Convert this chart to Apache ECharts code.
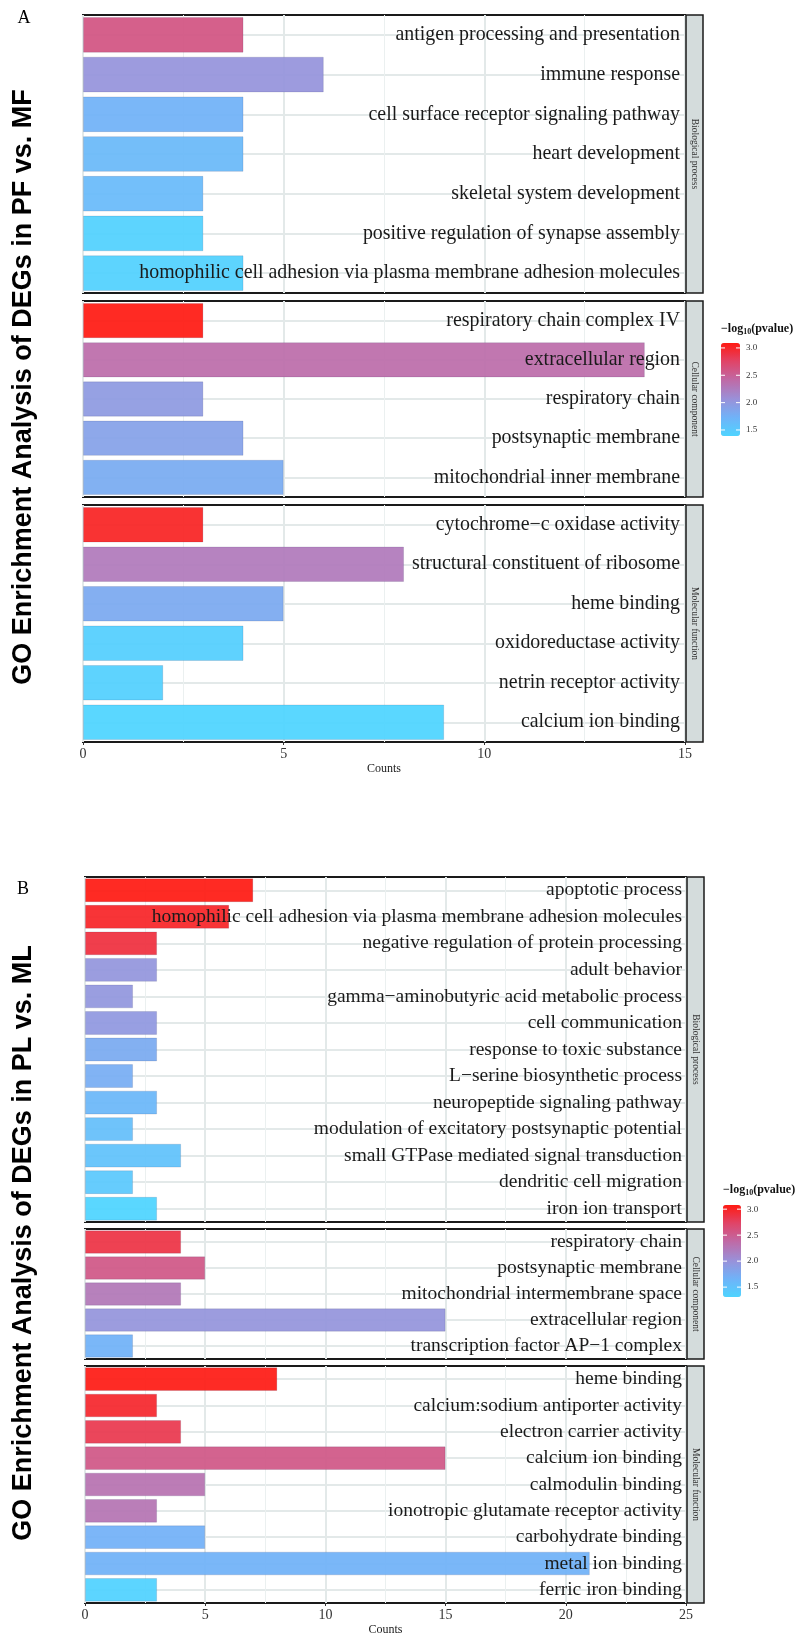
<!DOCTYPE html>
<html><head><meta charset="utf-8">
<script src="https://cdn.jsdelivr.net/npm/echarts@6/dist/echarts.min.js"></script>
<style>html,body{margin:0;padding:0;background:#fff}#c{width:798px;height:1638px}</style>
</head><body><div id="c"></div>
<script>
// ---------------- DATA ----------------
// Panel A: PF vs. MF
const A_BP_terms = ['antigen processing and presentation','immune response','cell surface receptor signaling pathway','heart development','skeletal system development','positive regulation of synapse assembly','homophilic cell adhesion via plasma membrane adhesion molecules'];
const A_BP_counts = [4, 6, 4, 4, 3, 3, 4];
const A_BP_logp = [2.61, 2.04, 1.73, 1.66, 1.65, 1.42, 1.42];

const A_CC_terms = ['respiratory chain complex IV','extracellular region','respiratory chain','postsynaptic membrane','mitochondrial inner membrane'];
const A_CC_counts = [3, 14, 3, 4, 5];
const A_CC_logp = [3.09, 2.38, 1.97, 1.90, 1.80];

const A_MF_terms = ['cytochrome\u2212c oxidase activity','structural constituent of ribosome','heme binding','oxidoreductase activity','netrin receptor activity','calcium ion binding'];
const A_MF_counts = [3, 8, 5, 4, 2, 9];
const A_MF_logp = [3.02, 2.27, 1.82, 1.44, 1.43, 1.39];

// Panel B: PL vs. ML
const B_BP_terms = ['apoptotic process','homophilic cell adhesion via plasma membrane adhesion molecules','negative regulation of protein processing','adult behavior','gamma\u2212aminobutyric acid metabolic process','cell communication','response to toxic substance','L\u2212serine biosynthetic process','neuropeptide signaling pathway','modulation of excitatory postsynaptic potential','small GTPase mediated signal transduction','dendritic cell migration','iron ion transport'];
const B_BP_counts = [7, 6, 3, 3, 2, 3, 3, 2, 3, 2, 4, 2, 3];
const B_BP_logp = [3.08, 2.99, 2.90, 1.96, 1.95, 1.93, 1.75, 1.72, 1.61, 1.54, 1.50, 1.43, 1.31];

const B_CC_terms = ['respiratory chain','postsynaptic membrane','mitochondrial intermembrane space','extracellular region','transcription factor AP\u22121 complex'];
const B_CC_counts = [4, 5, 4, 15, 2];
const B_CC_logp = [2.87, 2.55, 2.25, 1.98, 1.66];

const B_MF_terms = ['heme binding','calcium:sodium antiporter activity','electron carrier activity','calcium ion binding','calmodulin binding','ionotropic glutamate receptor activity','carbohydrate binding','metal ion binding','ferric iron binding'];
const B_MF_counts = [8, 3, 4, 15, 5, 3, 5, 21, 3];
const B_MF_logp = [3.07, 2.97, 2.83, 2.55, 2.30, 2.28, 1.68, 1.66, 1.33];

const A_xTicks = [0, 15, 5];   // min, max, interval
const B_xTicks = [0, 25, 5];
const A_legendRange = [1.39, 3.09];
const B_legendRange = [1.31, 3.08];
const legendTicks = [1.5, 2.0, 2.5, 3.0];
const stripLabels = ['Biological process', 'Cellular component', 'Molecular function'];
const titles = ['GO Enrichment Analysis of DEGs in PF vs. MF', 'GO Enrichment Analysis of DEGs in PL vs. ML'];

// ---------------- STYLE / LAYOUT ----------------
const SERIF = "'Liberation Serif','Times New Roman',serif";
const SANS = "'Liberation Sans',Arial,sans-serif";
const STOPS = ['#4ED4FF', '#70B2F8', '#9A90D8', '#BF6AA6', '#E04468', '#FF1A12'];
const GRID_C = '#E3E9E9';

const panels = [
  {terms: A_BP_terms, counts: A_BP_counts, logp: A_BP_logp, left: 83, width: 602, top: 15, height: 278, x: A_xTicks, last: false, strip: 0, fs: 19.9, m: 5},
  {terms: A_CC_terms, counts: A_CC_counts, logp: A_CC_logp, left: 83, width: 602, top: 301, height: 196, x: A_xTicks, last: false, strip: 1, fs: 19.9, m: 5},
  {terms: A_MF_terms, counts: A_MF_counts, logp: A_MF_logp, left: 83, width: 602, top: 505, height: 237, x: A_xTicks, last: true, strip: 2, fs: 19.9, m: 5},
  {terms: B_BP_terms, counts: B_BP_counts, logp: B_BP_logp, left: 85, width: 601, top: 877, height: 345, x: B_xTicks, last: false, strip: 0, fs: 19.5, m: 4},
  {terms: B_CC_terms, counts: B_CC_counts, logp: B_CC_logp, left: 85, width: 601, top: 1229, height: 130, x: B_xTicks, last: false, strip: 1, fs: 19.5, m: 4},
  {terms: B_MF_terms, counts: B_MF_counts, logp: B_MF_logp, left: 85, width: 601, top: 1366, height: 237, x: B_xTicks, last: true, strip: 2, fs: 19.5, m: 4}
];

const grid = [], xAxis = [], yAxis = [], series = [], graphic = [];
panels.forEach((p, i) => {
  grid.push({left: p.left, top: p.top, width: p.width, height: p.height, show: true,
    backgroundColor: '#fff', borderColor: '#1a1a1a', borderWidth: 2});
  xAxis.push({gridIndex: i, type: 'value', min: p.x[0], max: p.x[1], interval: p.x[2],
    axisLine: {show: false},
    axisTick: {show: p.last, length: 3, lineStyle: {color: '#333'}},
    axisLabel: {show: p.last, margin: 5, fontFamily: SERIF, fontSize: 14, color: '#333'},
    splitLine: {show: true, lineStyle: {color: GRID_C, width: 2}},
    minorTick: {show: false, splitNumber: 2},
    minorSplitLine: {show: true, lineStyle: {color: '#EBF0F0', width: 1}},
    name: p.last ? 'Counts' : '', nameLocation: 'middle', nameGap: 21,
    nameTextStyle: {fontFamily: SERIF, fontSize: 12, color: '#1a1a1a'}
  });
  // axis used by bars: carries horizontal grid lines at category centres
  yAxis.push({gridIndex: i, type: 'category', data: p.terms, inverse: true, position: 'right',
    axisLine: {show: false}, axisTick: {show: false}, axisLabel: {show: false},
    splitLine: {show: true, alignWithLabel: true, lineStyle: {color: GRID_C, width: 2}}, z: 0});
  // axis carrying term labels, drawn above bars
  yAxis.push({gridIndex: i, type: 'category', data: p.terms, inverse: true, position: 'right',
    axisLine: {show: false}, axisTick: {show: false}, splitLine: {show: false},
    axisLabel: {inside: true, interval: 0, margin: p.m, fontFamily: SERIF, fontSize: p.fs, color: '#1a1a1a'}, z: 10});
  series.push({type: 'bar', xAxisIndex: i, yAxisIndex: 2 * i, silent: true,
    barCategoryGap: '10%', encode: {x: 0, y: 1},
    itemStyle: {opacity: 0.93, borderColor: 'rgba(0,0,60,0.12)', borderWidth: 1},
    data: p.terms.map((t, k) => [p.counts[k], t, p.logp[k]])});
  // facet strip
  const sx = p.left + p.width + 1;
  graphic.push({type: 'rect', shape: {x: sx, y: p.top, width: 17, height: p.height},
    style: {fill: '#D4DCDC', stroke: '#1a1a1a', lineWidth: 1.5}, z: 5});
  graphic.push({type: 'text', x: sx + 8.5, y: p.top + p.height / 2, rotation: -Math.PI / 2,
    style: {text: stripLabels[p.strip], fontFamily: SERIF, fontSize: 9.5, fill: '#333',
      align: 'center', verticalAlign: 'middle'}, z: 6});
});

// big titles and panel letters
[[24, 387], [24, 1243]].forEach((c, i) => {
  graphic.push({type: 'text', x: c[0], y: c[1], rotation: Math.PI / 2,
    style: {text: titles[i], fontFamily: SANS, fontWeight: 'bold', fontSize: 27, fill: '#000',
      align: 'center', verticalAlign: 'middle'}});
});
graphic.push({type: 'text', x: 24, y: 18, style: {text: 'A', fontFamily: SERIF, fontSize: 18, fill: '#000', align: 'center', verticalAlign: 'middle'}});
graphic.push({type: 'text', x: 23, y: 889, style: {text: 'B', fontFamily: SERIF, fontSize: 18, fill: '#000', align: 'center', verticalAlign: 'middle'}});

// colour bars
const legends = [
  {range: A_legendRange, left: 721, top: 343, w: 19, h: 93, titleY: 329, series: [0, 1, 2]},
  {range: B_legendRange, left: 723, top: 1205, w: 18, h: 92, titleY: 1190, series: [3, 4, 5]}
];
const visualMap = legends.map(L => ({
  type: 'continuous', seriesIndex: L.series, dimension: 2, min: L.range[0], max: L.range[1],
  inRange: {color: STOPS}, left: L.left - 5, top: L.top - 5, padding: 5,
  itemWidth: L.w, itemHeight: L.h, calculable: false, showLabel: false, text: null, hoverLink: false
}));
legends.forEach(L => {
  graphic.push({type: 'text', x: L.left, y: L.titleY,
    style: {text: '{a|\u2212log}{s|10}{a|(pvalue)}', verticalAlign: 'middle', align: 'left',
      rich: {a: {fontFamily: SERIF, fontWeight: 'bold', fontSize: 12, fill: '#111'},
             s: {fontFamily: SERIF, fontWeight: 'bold', fontSize: 8, fill: '#111', padding: [6, 0, 0, 0]}}}});
  legendTicks.forEach(v => {
    const y = L.top + (L.range[1] - v) / (L.range[1] - L.range[0]) * L.h;
    graphic.push({type: 'line', shape: {x1: L.left, y1: y, x2: L.left + 4, y2: y}, style: {stroke: '#fff', lineWidth: 1}, z: 20});
    graphic.push({type: 'line', shape: {x1: L.left + L.w - 4, y1: y, x2: L.left + L.w, y2: y}, style: {stroke: '#fff', lineWidth: 1}, z: 20});
    graphic.push({type: 'text', x: L.left + L.w + 6, y: y,
      style: {text: v.toFixed(1), fontFamily: SERIF, fontSize: 9, fill: '#333', verticalAlign: 'middle', align: 'left'}});
  });
});

const chart = echarts.init(document.getElementById('c'), null, {renderer: 'canvas'});
chart.setOption({backgroundColor: '#fff', animation: false, grid, xAxis, yAxis, series, visualMap, graphic});
</script></body></html>
